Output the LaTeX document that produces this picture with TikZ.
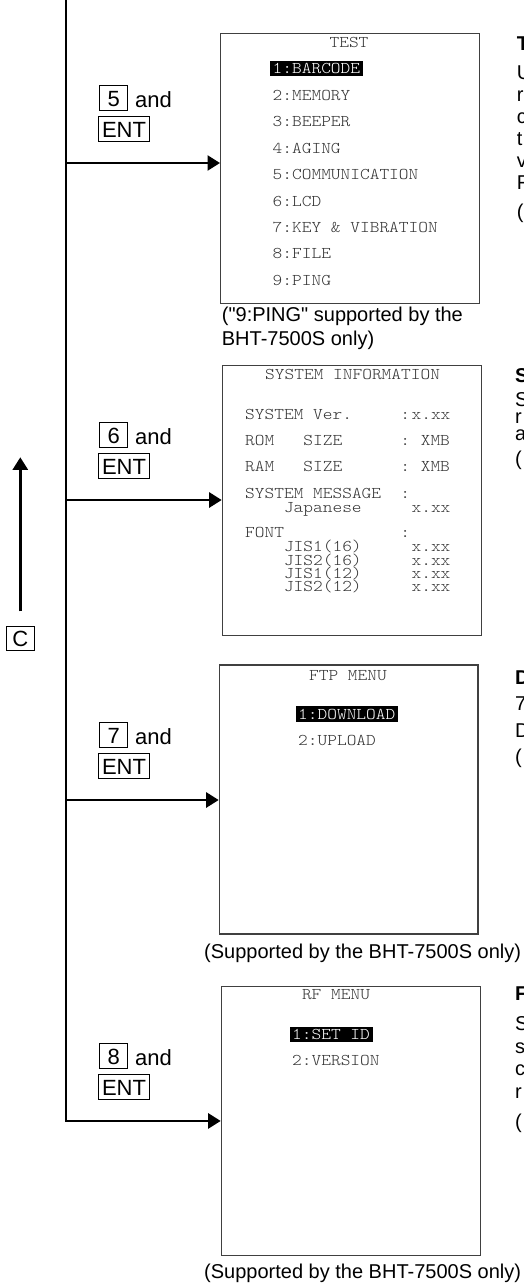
\documentclass[tikz,border=0pt]{standalone}
\usepackage{fontspec}
\setmainfont{Liberation Sans}[Ligatures=TeXOff]
\newfontfamily\scrfont[FakeStretch=1.128]{lmmonolt10-regular.otf}
\usetikzlibrary{arrows.meta}
\tikzset{
  arr/.style={-{Triangle[length=12.5pt,width=15pt]}, line width=2.5pt},
  screen/.style={draw=black!75, line width=1.2pt, anchor=north west, inner sep=0pt},
  key/.style={draw, line width=0.9pt, inner sep=0pt, minimum height=25pt, text height=16.5pt, text depth=0pt, font=\fontsize{22}{24}\selectfont},
  lbl/.style={anchor=base west, inner sep=0pt, font=\fontsize{22}{24}\selectfont},
  scr/.style={anchor=base west, inner sep=0pt, text=black!80, font=\scrfont\fontsize{16.4}{18}\selectfont},
  scrt/.style={scr, anchor=base},
  hl/.style={scr, fill=black, text=white, inner xsep=2.7pt, inner ysep=0pt, text height=12.6pt, text depth=2.7pt},
  note/.style={anchor=base west, inner sep=0pt, font=\fontsize{20}{23}\selectfont},
  side/.style={anchor=base west, inner sep=0pt, font=\fontsize{20}{22}\selectfont},
  sidet/.style={side, font=\fontsize{20}{22}\selectfont\bfseries},
}
\begin{document}
\begin{tikzpicture}[x=1pt,y=-1pt]
\useasboundingbox (0,0) rectangle (524,1286);

% screens
\node[screen, minimum width=258.5pt, minimum height=270pt] (test) at (220,33) {};
\node[screen, minimum width=259.3pt, minimum height=270pt] (sys) at (221.7,365) {};
\node[screen, minimum width=258.6pt, minimum height=269pt] (ftp) at (218.7,664.3) {};
\node[screen, minimum width=259.3pt, minimum height=269.3pt] (rf) at (220.7,985.7) {};

% main line and arrows
\coordinate (top) at (66,0);
\coordinate (j1) at (66,163);
\coordinate (j2) at (66,500);
\coordinate (j3) at (66,800);
\draw[arr] (top) |- (rf.west);
\draw[arr] (j1) -- (j1 -| test.west);
\draw[arr] (j2) -- (j2 -| sys.west);
\draw[arr] (j3) -- (j3 -| ftp.west);

% key labels
\node[key, minimum width=28pt] (k5) at (113.7,98.2) {5};
\node[lbl] (a5) at (135,107.4) {and};
\node[key, minimum width=50.5pt] (e5) at (124,129.2) {ENT};

\node[key, minimum width=28pt] (k6) at (113.7,435.2) {6};
\node[lbl] (a6) at (135,444.4) {and};
\node[key, minimum width=50.5pt] (e6) at (124,466.2) {ENT};

\node[key, minimum width=28pt] (k7) at (113.7,735.2) {7};
\node[lbl] (a7) at (135,744.4) {and};
\node[key, minimum width=50.5pt] (e7) at (124,766.2) {ENT};

\node[key, minimum width=28pt] (k8) at (113.7,1056.2) {8};
\node[lbl] (a8) at (135,1065.4) {and};
\node[key, minimum width=50.5pt] (e8) at (124,1087.2) {ENT};

% C key and up arrow
\node[key, minimum width=28pt, minimum height=24pt] (ck) at (20.3,638) {C};
\coordinate (ctip) at (20.3,457.3);
\draw[arr] ([yshift=14.3pt]ck.north) -- (ctip);

% TEST screen
\node[scrt] (t0) at (349,47.7) {TEST};
\node[hl] (t1) at (269.8,73.3) {1:BARCODE};
\node[scr] (t2) at (272.5,100.7) {2:MEMORY};
\node[scr] (t3) at (272.5,126.3) {3:BEEPER};
\node[scr] (t4) at (272.5,153.3) {4:AGING};
\node[scr] (t5) at (272.5,179.3) {5:COMMUNICATION};
\node[scr] (t6) at (272.5,206.3) {6:LCD};
\node[scr] (t7) at (272.5,232.7) {7:KEY \& VIBRATION};
\node[scr] (t8) at (272.5,258.7) {8:FILE};
\node[scr] (t9) at (272.5,285.3) {9:PING};

% SYSTEM INFORMATION screen
\node[scr] (s0) at (265,379.3) {SYSTEM INFORMATION};
\node[scr] (s1a) at (245,419.3) {SYSTEM Ver.};
\node[scr] (s1b) at (400.2,419.3) {:};
\node[scr] (s1c) at (411.4,419.3) {x.xx};
\node[scr] (s2a) at (245,445.7) {ROM};
\node[scr] (s2b) at (303.2,445.7) {SIZE};
\node[scr] (s2c) at (400.2,445.7) {:};
\node[scr] (s2d) at (420.6,445.7) {XMB};
\node[scr] (s3a) at (245,471.7) {RAM};
\node[scr] (s3b) at (303.2,471.7) {SIZE};
\node[scr] (s3c) at (400.2,471.7) {:};
\node[scr] (s3d) at (420.6,471.7) {XMB};
\node[scr] (s4a) at (245,498.3) {SYSTEM MESSAGE};
\node[scr] (s4b) at (400.2,498.3) {:};
\node[scr] (s5a) at (283.8,512.3) {Japanese};
\node[scr] (s5b) at (411.4,512.3) {x.xx};
\node[scr] (s6a) at (245,537.3) {FONT};
\node[scr] (s6b) at (400.2,537.3) {:};
\node[scr] (s7a) at (283.8,551.7) {JIS1(16)};
\node[scr] (s7b) at (411.4,551.7) {x.xx};
\node[scr] (s8a) at (283.8,565) {JIS2(16)};
\node[scr] (s8b) at (411.4,565) {x.xx};
\node[scr] (s9a) at (283.8,578.3) {JIS1(12)};
\node[scr] (s9b) at (411.4,578.3) {x.xx};
\node[scr] (s10a) at (283.8,591) {JIS2(12)};
\node[scr] (s10b) at (411.4,591) {x.xx};

% FTP screen
\node[scrt] (f0) at (348,680) {FTP MENU};
\node[hl] (f1) at (295.3,719) {1:DOWNLOAD};
\node[scr] (f2) at (298,745.7) {2:UPLOAD};

% RF screen
\node[scrt] (r0) at (336,999.3) {RF MENU};
\node[hl] (r1) at (289.3,1039.3) {1:SET ID};
\node[scr] (r2) at (292,1065.7) {2:VERSION};

% notes
\node[note] (n1) at (221.7,321.5) {("9:PING" supported by the};
\node[note] (n2) at (221.7,345) {BHT-7500S only)};
\node[note] (n3) at (204,958) {(Supported by the BHT-7500S only)};
\node[note] (n4) at (204,1278.5) {(Supported by the BHT-7500S only)};

% right-edge text (cut by the page edge)
\node[sidet] (x1) at (516.7,50) {T};
\node[side] (x2) at (516.7,79) {U};
\node[side] (x3) at (516.7,101) {r};
\node[side] (x4) at (516.7,123) {c};
\node[side] (x5) at (516.7,145) {t};
\node[side] (x6) at (516.7,167) {v};
\node[side] (x7) at (516.7,189) {F};
\node[side] (x8) at (516.7,218.5) {(};

\node[sidet] (y1) at (515,382) {S};
\node[side] (y2) at (515,406) {S};
\node[side] (y3) at (515,423) {r};
\node[side] (y4) at (515,440) {a};
\node[side] (y5) at (515,465) {(};

\node[sidet] (z1) at (515,684) {D};
\node[side] (z2) at (515,710) {7};
\node[side] (z3) at (515,737) {D};
\node[side] (z4) at (515,763.5) {(};

\node[sidet] (w1) at (515,1000.5) {F};
\node[side] (w2) at (515,1030.5) {S};
\node[side] (w3) at (515,1053) {s};
\node[side] (w4) at (515,1075) {c};
\node[side] (w5) at (515,1098) {r};
\node[side] (w6) at (515,1128.5) {(};
\end{tikzpicture}
\end{document}
